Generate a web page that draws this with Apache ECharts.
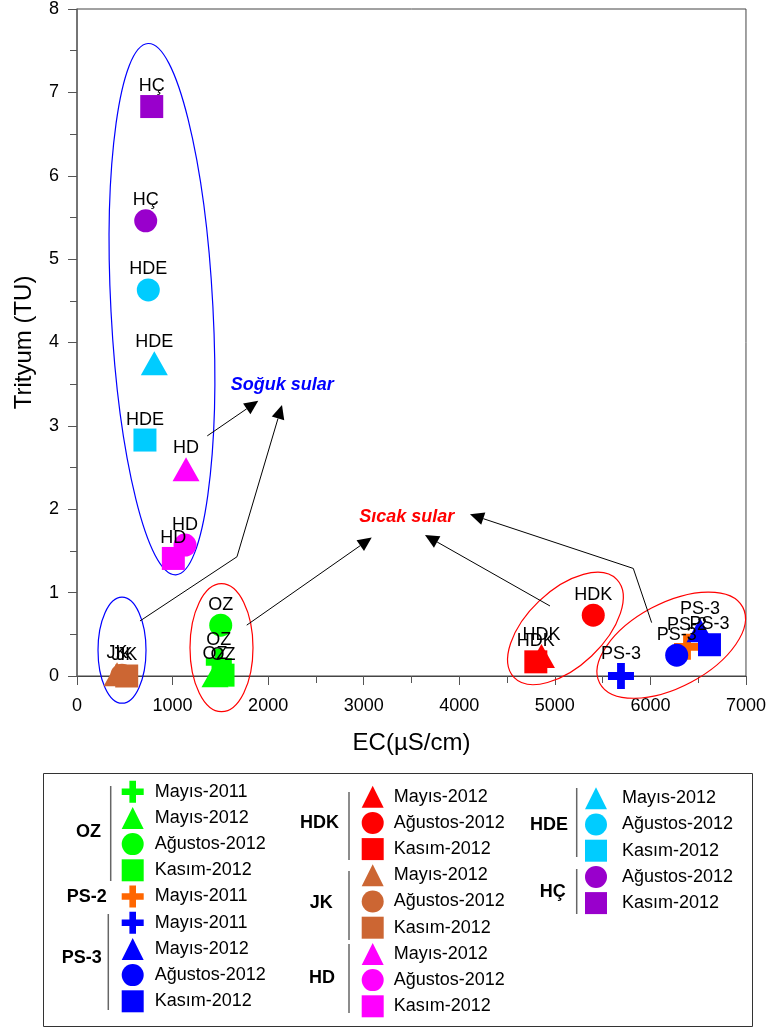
<!DOCTYPE html>
<html><head><meta charset="utf-8">
<script src="https://cdn.jsdelivr.net/npm/echarts@6/dist/echarts.min.js"></script>
<style>html,body{margin:0;padding:0;background:#fff}#c{width:769px;height:1030px}</style>
</head><body><div id="c"></div>
<script>
const FONT = '"Liberation Sans", Arial, Helvetica, sans-serif';

// ---- data (EC in µS/cm, Trityum in TU) ----
const OZ_periods = ['Mayıs-2011', 'Mayıs-2012', 'Ağustos-2012', 'Kasım-2012'];
const OZ_EC = [1484, 1444, 1504, 1528];
const OZ_TU = [0.17, 0.01, 0.61, 0.01];

const PS2_periods = ['Mayıs-2011'];
const PS2_EC = [6383];
const PS2_TU = [0.35];

const PS3_periods = ['Mayıs-2011', 'Mayıs-2012', 'Ağustos-2012', 'Kasım-2012'];
const PS3_EC = [5692, 6519, 6275, 6618];
const PS3_TU = [0.0, 0.55, 0.25, 0.375];

const HDK_periods = ['Mayıs-2012', 'Ağustos-2012', 'Kasım-2012'];
const HDK_EC = [4860, 5402, 4801];
const HDK_TU = [0.24, 0.73, 0.17];

const JK_periods = ['Mayıs-2012', 'Ağustos-2012', 'Kasım-2012'];
const JK_EC = [419, 470, 520];
const JK_TU = [0.02, 0.01, 0.0];

const HD_periods = ['Mayıs-2012', 'Ağustos-2012', 'Kasım-2012'];
const HD_EC = [1141, 1130, 1008];
const HD_TU = [2.48, 1.57, 1.41];

const HDE_periods = ['Mayıs-2012', 'Ağustos-2012', 'Kasım-2012'];
const HDE_EC = [809, 746, 711];
const HDE_TU = [3.75, 4.63, 2.83];

const HC_periods = ['Ağustos-2012', 'Kasım-2012'];
const HC_EC = [719, 782];
const HC_TU = [5.46, 6.83];

const stationNames = ['OZ', 'PS-2', 'PS-3', 'HDK', 'JK', 'HD', 'HDE', 'HÇ'];
const stationColors = ['#00FF00', '#FF6600', '#0000FF', '#FF0000', '#CC6633', '#FF00FF', '#00CCFF', '#9900CC'];

// annotation data (data coordinates)
const ellipseCenters = [[889, 4.40], [471, 0.31], [1512, 0.34], [5111, 0.57], [6218, 0.37]];
const ellipseRx = [51, 24, 31.5, 71, 81];
const ellipseRy = [266, 53, 64, 38, 42];
const ellipseRot = [3, 0, 0, 43.5, 28];
const ellipseColors = ['#0000FF', '#0000FF', '#FF0000', '#FF0000', '#FF0000'];

const arrowPaths = [
  [[1363, 2.88], [1897, 3.30]],
  [[659, 0.66], [1674, 1.43], [2145, 3.25]],
  [[1776, 0.61], [3084, 1.66]],
  [[4949, 0.84], [3641, 1.69]],
  [[6013, 0.64], [5821, 1.29], [4112, 1.94]]
];
const noteTexts = ['Soğuk sular', 'Sıcak sular'];
const notePos = [[1609, 3.49], [2954, 1.91]];
const noteColors = ['#0000FF', '#FF0000'];

const xTickMin = 0, xTickMax = 7000, xTickStep = 1000;
const yTickMin = 0, yTickMax = 8, yTickStep = 1;

// ---- build ----
const crossPath = 'path://M3.5,0H6.5V3.5H10V6.5H6.5V10H3.5V6.5H0V3.5H3.5Z';
const symbolOf = {'Mayıs-2011': crossPath, 'Mayıs-2012': 'triangle', 'Ağustos-2012': 'circle', 'Kasım-2012': 'rect'};
const sizeOf = {'Mayıs-2011': 26, 'Mayıs-2012': [27, 24], 'Ağustos-2012': 23, 'Kasım-2012': 23};

const groups = [
  ['OZ', OZ_periods, OZ_EC, OZ_TU],
  ['PS-2', PS2_periods, PS2_EC, PS2_TU],
  ['PS-3', PS3_periods, PS3_EC, PS3_TU],
  ['HDK', HDK_periods, HDK_EC, HDK_TU],
  ['JK', JK_periods, JK_EC, JK_TU],
  ['HD', HD_periods, HD_EC, HD_TU],
  ['HDE', HDE_periods, HDE_EC, HDE_TU],
  ['HÇ', HC_periods, HC_EC, HC_TU]
];

const series = [];
const namesByStation = {};
groups.forEach(([st, per, ec, tu]) => {
  const color = stationColors[stationNames.indexOf(st)];
  namesByStation[st] = [];
  per.forEach((p, i) => {
    const nm = st + '|' + p;
    namesByStation[st].push(nm);
    series.push({
      type: 'scatter', name: nm, clip: false, z: 3,
      symbol: symbolOf[p], symbolSize: sizeOf[p],
      itemStyle: {color: color, opacity: 1},
      label: {show: true, position: 'top', distance: 0, formatter: st, color: '#000',
        fontSize: 18, fontFamily: FONT},
      data: [[ec[i], tu[i]]]
    });
  });
});

series.push({
  type: 'custom', coordinateSystem: 'cartesian2d', silent: true, clip: false, z: 1,
  data: ellipseCenters.map((c, i) => [c[0], c[1], i]),
  encode: {x: 0, y: 1},
  renderItem: (params, api) => {
    const i = api.value(2);
    const p = api.coord([api.value(0), api.value(1)]);
    return {type: 'ellipse', x: p[0], y: p[1], rotation: ellipseRot[i] * Math.PI / 180,
      shape: {cx: 0, cy: 0, rx: ellipseRx[i], ry: ellipseRy[i]},
      style: {fill: null, stroke: ellipseColors[i], lineWidth: 1.2}};
  }
});

series.push({
  type: 'custom', coordinateSystem: 'cartesian2d', silent: true, clip: false, z: 1,
  data: arrowPaths.map((a, i) => [a[a.length - 1][0], a[a.length - 1][1], i]),
  encode: {x: 0, y: 1},
  renderItem: (params, api) => {
    const i = api.value(2);
    const pts = arrowPaths[i].map(q => api.coord(q));
    const n = pts.length, tip = pts[n - 1], prev = pts[n - 2];
    const ang = Math.atan2(tip[1] - prev[1], tip[0] - prev[0]);
    const L = 14, W = 6.5;
    const base = [tip[0] - L * Math.cos(ang), tip[1] - L * Math.sin(ang)];
    const left = [base[0] + W * Math.sin(ang), base[1] - W * Math.cos(ang)];
    const right = [base[0] - W * Math.sin(ang), base[1] + W * Math.cos(ang)];
    return {type: 'group', children: [
      {type: 'polyline', shape: {points: pts.slice(0, n - 1).concat([base])}, style: {stroke: '#000', lineWidth: 1, fill: null}},
      {type: 'polygon', shape: {points: [tip, left, right]}, style: {fill: '#000'}}
    ]};
  }
});

series.push({
  type: 'custom', coordinateSystem: 'cartesian2d', silent: true, clip: false, z: 4,
  data: notePos.map((c, i) => [c[0], c[1], i]),
  encode: {x: 0, y: 1},
  renderItem: (params, api) => {
    const i = api.value(2);
    const p = api.coord([api.value(0), api.value(1)]);
    return {type: 'text', x: p[0], y: p[1], style: {text: noteTexts[i], fill: noteColors[i],
      fontSize: 18, fontWeight: 'bold', fontStyle: 'italic', fontFamily: FONT, align: 'left', verticalAlign: 'middle'}};
  }
});

const fmt = n => n.split('|')[1];
const legendBase = {orient: 'vertical', itemWidth: 22, itemHeight: 22, itemGap: 4.2, padding: 0,
  selectedMode: false, formatter: fmt};
const legends = [
  Object.assign({}, legendBase, {left: 121.7, top: 780.7,
    data: namesByStation['OZ'].concat(namesByStation['PS-2'], namesByStation['PS-3']),
    textStyle: {fontSize: 18, color: '#000', fontFamily: FONT, padding: [0, 0, 0, 6]}}),
  Object.assign({}, legendBase, {left: 361.7, top: 785.7,
    data: namesByStation['HDK'].concat(namesByStation['JK'], namesByStation['HD']),
    textStyle: {fontSize: 18, color: '#000', fontFamily: FONT, padding: [0, 0, 0, 5]}}),
  Object.assign({}, legendBase, {left: 585, top: 787.3,
    data: namesByStation['HDE'].concat(namesByStation['HÇ']),
    textStyle: {fontSize: 18, color: '#000', fontFamily: FONT, padding: [0, 0, 0, 10]}})
];

const groupLabel = (t, x, y) => ({type: 'text', x: x, y: y, style: {text: t, fill: '#000', fontSize: 18,
  fontWeight: 'bold', fontFamily: FONT, align: 'right', verticalAlign: 'middle'}});
const vline = (x, y1, y2) => ({type: 'line', shape: {x1: x, y1: y1, x2: x, y2: y2}, style: {stroke: '#666', lineWidth: 1.5}});

const option = {
  animation: false,
  backgroundColor: '#fff',
  grid: {left: 77, right: 23, top: 9, bottom: 354, show: true, borderColor: '#444', borderWidth: 1},
  xAxis: {
    type: 'value', min: xTickMin, max: xTickMax, interval: xTickStep,
    name: 'EC(µS/cm)', nameLocation: 'middle', nameGap: 55,
    nameTextStyle: {fontSize: 24, color: '#000', fontFamily: FONT},
    axisLine: {show: true, lineStyle: {color: '#444', width: 1}},
    axisTick: {show: true, inside: false, length: 9, lineStyle: {color: '#555'}},
    minorTick: {show: true, splitNumber: 2, length: 7, lineStyle: {color: '#555'}},
    axisLabel: {fontSize: 18, color: '#000', fontFamily: FONT, margin: 21, formatter: v => String(v)},
    splitLine: {show: false}
  },
  yAxis: {
    type: 'value', min: yTickMin, max: yTickMax, interval: yTickStep,
    name: 'Trityum (TU)', nameLocation: 'middle', nameGap: 41, nameRotate: 90,
    nameTextStyle: {fontSize: 24, color: '#000', fontFamily: FONT},
    axisLine: {show: true, lineStyle: {color: '#666', width: 1.5}},
    axisTick: {show: true, inside: false, length: 9, lineStyle: {color: '#555'}},
    minorTick: {show: true, splitNumber: 2, length: 7, lineStyle: {color: '#555'}},
    axisLabel: {fontSize: 18, color: '#000', fontFamily: FONT, margin: 18, formatter: v => String(v)},
    splitLine: {show: false}
  },
  legend: legends,
  graphic: [
    {type: 'rect', shape: {x: 43.5, y: 773.5, width: 709, height: 253}, style: {fill: null, stroke: '#333', lineWidth: 1}},
    groupLabel('OZ', 101, 832), groupLabel('PS-2', 106.7, 897), groupLabel('PS-3', 101.7, 958),
    groupLabel('HDK', 339, 823), groupLabel('JK', 332.7, 903), groupLabel('HD', 335, 978),
    groupLabel('HDE', 568, 825), groupLabel('HÇ', 565.7, 892),
    vline(110.7, 786, 881), vline(108.3, 914, 1010),
    vline(349, 792, 860), vline(349, 871, 940), vline(349, 944, 1013),
    vline(576.7, 788, 857), vline(576.7, 869, 914)
  ],
  series: series
};

const chart = echarts.init(document.getElementById('c'), null, {renderer: 'canvas'});
chart.setOption(option);
</script>
</body></html>
